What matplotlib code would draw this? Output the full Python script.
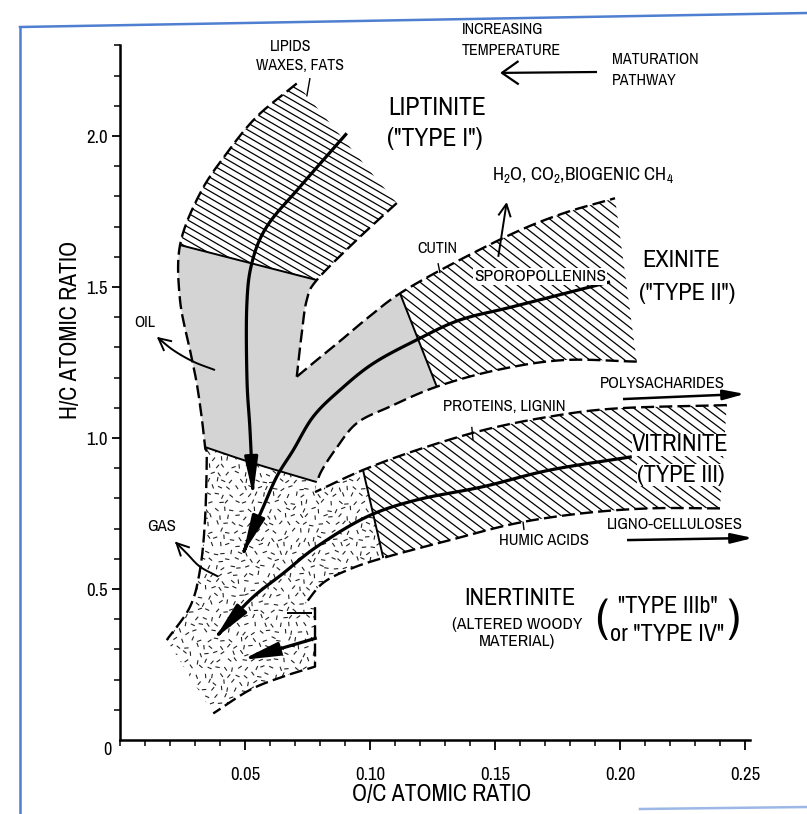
import numpy as np
import matplotlib
matplotlib.use("Agg")
import matplotlib.pyplot as plt
from matplotlib import font_manager
from matplotlib.patches import Polygon, FancyArrowPatch
from matplotlib.collections import LineCollection
from matplotlib.lines import Line2D
from matplotlib.path import Path
from matplotlib.ticker import FixedLocator, MultipleLocator

_avail = {f.name for f in font_manager.fontManager.ttflist}
_cands = ['Liberation Sans Narrow', 'Arial Narrow', 'Archivo Narrow', 'Roboto Condensed',
          'PT Sans Narrow', 'Pragati Narrow', 'Encode Sans Condensed', 'Fira Sans Condensed',
          'IBM Plex Sans Condensed', 'Asap Condensed', 'Barlow Semi Condensed',
          'Open Sans Condensed', 'Ubuntu Condensed', 'DejaVu Sans Condensed']
NARROW = next((c for c in _cands if c in _avail), None)
FS = 1.0 if NARROW else 0.85
if NARROW is None:
    NARROW = 'Liberation Sans'
plt.rcParams['font.family'] = [NARROW, 'Liberation Sans', 'DejaVu Sans']
plt.rcParams['mathtext.fontset'] = 'custom'
plt.rcParams['mathtext.rm'] = NARROW
plt.rcParams['mathtext.it'] = NARROW

# ---------------- data: (O/C, H/C) ----------------
x_ticks = [0.05, 0.10, 0.15, 0.20, 0.25]
x_tick_labels = ['0.05', '0.10', '0.15', '0.20', '0.25']
y_ticks = [0.5, 1.0, 1.5, 2.0]
y_tick_labels = ['0.5', '1.0', '1.5', '2.0']

# Type I (liptinite) band
type1_outer = [(0.0707, 2.174), (0.0547, 2.064), (0.0427, 1.943), (0.032, 1.810), (0.024, 1.639)]
type1_inner = [(0.1107, 1.778), (0.0947, 1.656), (0.0787, 1.523)]
# oil window (grey) edges
oil_left = [(0.024, 1.639), (0.024, 1.457), (0.028, 1.291), (0.0307, 1.181), (0.0328, 1.060), (0.034, 0.970)]
oil_right = [(0.0787, 1.523), (0.0747, 1.457), (0.0727, 1.347), (0.0707, 1.203)]
# Type II (exinite) band
type2_upper = [(0.0707, 1.203), (0.0787, 1.258), (0.088, 1.321), (0.100, 1.404), (0.112, 1.479),
               (0.1307, 1.567), (0.1573, 1.678), (0.1773, 1.744), (0.198, 1.794)]
type2_lower = [(0.2067, 1.253), (0.1773, 1.258), (0.1507, 1.225), (0.1267, 1.170), (0.108, 1.104),
               (0.0947, 1.049), (0.086, 0.960), (0.0808, 0.894), (0.0787, 0.854)]
# Type III (vitrinite) band
type3_upper = [(0.2427, 1.109), (0.1987, 1.098), (0.172, 1.071), (0.1453, 1.026), (0.1187, 0.960),
               (0.0972, 0.894), (0.078, 0.821)]
type3_lower = [(0.24, 0.767), (0.212, 0.767), (0.1853, 0.751), (0.1587, 0.718), (0.132, 0.662),
               (0.1053, 0.603), (0.092, 0.566), (0.0812, 0.520), (0.074, 0.450)]
# gas window / inertinite edges
gas_left = [(0.034, 0.970), (0.0347, 0.938), (0.034, 0.728), (0.032, 0.563), (0.028, 0.441), (0.0187, 0.331)]
gas_right = [(0.078, 0.440), (0.078, 0.243)]
gas_bottom = [(0.078, 0.243), (0.0653, 0.210), (0.052, 0.166), (0.0373, 0.088)]
# solid zone boundaries
sep_type1 = [(0.024, 1.639), (0.0787, 1.523)]
sep_type2 = [(0.112, 1.479), (0.1267, 1.170)]
sep_oil_gas = [(0.034, 0.970), (0.0532, 0.917), (0.0787, 0.854)]
sep_type3 = [(0.0972, 0.894), (0.1053, 0.603)]

# evolution paths (arrows)
path_type1 = [(0.0907, 2.009), (0.072, 1.832), (0.0587, 1.700), (0.0527, 1.578), (0.0507, 1.435),
              (0.0508, 1.192), (0.052, 1.026), (0.0532, 0.811)]
path_type2 = [(0.196, 1.517), (0.1572, 1.435), (0.136, 1.391), (0.1187, 1.325), (0.1013, 1.247),
              (0.088, 1.159), (0.0773, 1.071), (0.0693, 0.960), (0.0627, 0.872), (0.0568, 0.762),
              (0.052, 0.672), (0.0493, 0.619)]
path_type3 = [(0.2047, 0.938), (0.172, 0.894), (0.1453, 0.839), (0.1187, 0.795), (0.0987, 0.739),
              (0.0787, 0.640), (0.0653, 0.552), (0.052, 0.464), (0.038, 0.337)]
path_type4 = [(0.0787, 0.338), (0.0487, 0.265)]
stub_line = [(0.0668, 0.421), (0.0768, 0.421)]

oil_arrow = [(0.038, 1.225), (0.0293, 1.253), (0.0213, 1.291), (0.0147, 1.335)]
gas_arrow = [(0.0393, 0.541), (0.032, 0.574), (0.0267, 0.618), (0.022, 0.657)]
h2o_arrow = [(0.1513, 1.600), (0.1547, 1.782)]
maturation_arrow = [(0.1908, 2.212), (0.152, 2.209)]
polysach_arrow = [(0.2012, 1.129), (0.25, 1.146)]
ligno_arrow = [(0.2028, 0.662), (0.2532, 0.669)]

pointer_lipids = [(0.076, 2.192), (0.0747, 2.131)]
pointer_cutin = [(0.1272, 1.579), (0.128, 1.546)]
pointer_proteins = [(0.1407, 1.037), (0.1412, 0.993)]
pointer_humic = [(0.1612, 0.723), (0.1616, 0.695)]

# ---------------- figure ----------------
FW, FH, DPI = 8.07, 8.14, 100
AX = [0.1487, 0.0909, 0.7807, 0.8533]
fig = plt.figure(figsize=(FW, FH), dpi=DPI)
ax = fig.add_axes(AX)
ax.set_xlim(0, 0.252)
ax.set_ylim(0, 2.3)
AXW = FW * DPI * AX[2]
AXH = FH * DPI * AX[3]
N = 10  # drawing sub-steps per read segment


def smooth(pts, n=N):
    """Catmull-Rom curve through the read points (for drawing only)."""
    P = np.array(pts, float)
    if len(P) < 3:
        return P
    E = np.vstack([2 * P[0] - P[1], P, 2 * P[-1] - P[-2]])
    out = []
    for i in range(1, len(E) - 2):
        p0, p1, p2, p3 = E[i - 1:i + 3]
        for t in np.linspace(0, 1, n, endpoint=False):
            out.append(0.5 * (2 * p1 + (-p0 + p2) * t + (2 * p0 - 5 * p1 + 4 * p2 - p3) * t * t
                              + (-p0 + 3 * p1 - 3 * p2 + p3) * t ** 3))
    out.append(P[-1])
    return np.array(out)


D_out = smooth(type1_outer + oil_left[1:] + gas_left[1:])
D_in = smooth(type1_inner + oil_right[1:])
D_t2u = smooth(type2_upper)
D_t2l = smooth(type2_lower)
D_t3u = smooth(type3_upper)
D_t3l = smooth(type3_lower)
D_gb = smooth(gas_bottom)
D_sog = smooth(sep_oil_gas)


def poly(parts, **kw):
    p = Polygon(np.vstack([np.atleast_2d(np.array(q, float)) for q in parts]), closed=True, **kw)
    ax.add_patch(p)
    return p


t1_poly = poly([D_out[:4 * N + 1], D_in[:2 * N + 1][::-1]], fc='none', ec='none')
oil_poly = poly([sep_type1, D_in[2 * N:], D_t2u[:4 * N + 1], D_t2l[3 * N:], D_sog[::-1],
                 D_out[4 * N:9 * N + 1][::-1]], fc='#d4d4d4', ec='none', zorder=1)
t2_poly = poly([D_t2u[4 * N:], D_t2l[:3 * N + 1]], fc='none', ec='none')
t3_poly = poly([D_t3u[:5 * N + 1], D_t3l[:5 * N + 1][::-1]], fc='none', ec='none')
gas_poly = poly([D_sog, D_t3u[5 * N:][::-1], D_t3l[5 * N:], gas_right, D_gb,
                 D_out[9 * N:][::-1]], fc='white', ec='none', zorder=1)


def hatch(patch, angle_deg, spacing, lw=0.9, color='k'):
    a = np.deg2rad(angle_deg)
    d = np.array([np.cos(a), -np.sin(a)])
    nrm = np.array([np.sin(a), np.cos(a)])
    L = np.hypot(AXW, AXH)
    segs = []
    for c in np.arange(-L, L, spacing):
        p0 = c * nrm - L * d
        p1 = c * nrm + L * d
        segs.append([(p0[0] / AXW, p0[1] / AXH), (p1[0] / AXW, p1[1] / AXH)])
    lc = LineCollection(segs, colors=color, linewidths=lw, transform=ax.transAxes, zorder=2)
    ax.add_collection(lc)
    lc.set_clip_path(patch)


def speckle(patch, step=8.0, half=2.2, lw=0.8):
    # deterministic texture of short strokes (hash of the grid cell, no randomness)
    segs = []
    nx = int(AXW / step) + 2
    ny = int(AXH / (step * 0.9)) + 2
    for j in range(ny):
        for i in range(nx):
            h = ((i * 73856093) ^ (j * 19349663)) & 0xFFFFFF
            ang = np.deg2rad((h % 12) * 15 + 20)
            jx = ((h >> 4) % 5 - 2) * 0.8
            jy = ((h >> 8) % 5 - 2) * 0.8
            cx = i * step + (j % 2) * step / 2 + jx
            cy = j * step * 0.9 + jy
            dx, dy = half * np.cos(ang), half * np.sin(ang)
            segs.append([((cx - dx) / AXW, (cy - dy) / AXH), ((cx + dx) / AXW, (cy + dy) / AXH)])
    lc = LineCollection(segs, colors='#222222', linewidths=lw, transform=ax.transAxes, zorder=2)
    ax.add_collection(lc)
    lc.set_clip_path(patch)


hatch(t1_poly, 30, 6.0)
hatch(t2_poly, 38, 7.2)
hatch(t3_poly, 37, 7.2)
speckle(gas_poly)


def line(points, dashed=False, lw=1.7, z=4):
    P = np.array(points, float)
    ls = (0, (5.5, 2.2)) if dashed else '-'
    ax.plot(P[:, 0], P[:, 1], color='k', lw=lw, ls=ls, zorder=z, solid_capstyle='butt',
            dash_capstyle='butt', clip_on=False)


line(D_out, dashed=True)
line(D_in, dashed=True)
line(D_t2u, dashed=True)
line(D_t2l, dashed=True)
line(D_t3u, dashed=True)
line(D_t3l, dashed=True)
line(np.vstack([gas_right, D_gb[1:]]), dashed=True)
for s in (sep_type1, sep_type2, D_sog, sep_type3):
    line(s, lw=1.4)
for s in (pointer_lipids, pointer_cutin, pointer_proteins, pointer_humic):
    line(s, lw=1.0)
line(stub_line, lw=1.4)


def arrow(points, style, lw, ms, z=5):
    p = FancyArrowPatch(path=Path(smooth(points)), arrowstyle=style, mutation_scale=ms,
                        lw=lw, color='k', zorder=z, capstyle='butt', joinstyle='round',
                        clip_on=False)
    ax.add_patch(p)


big = '-|>,head_length=2.0,head_width=0.36'
arrow(path_type1, big, 2.3, 11)
arrow(path_type2, big, 2.3, 11)
arrow(path_type3, big, 2.3, 11)
arrow(path_type4, big, 2.3, 11)
small = '->,head_length=0.9,head_width=0.45'
arrow(oil_arrow, small, 1.4, 10)
arrow(gas_arrow, small, 1.4, 10)
arrow(h2o_arrow, small, 1.4, 10)
arrow(maturation_arrow, '->,head_length=1.0,head_width=0.7', 1.6, 12)
filled = '-|>,head_length=1.3,head_width=0.3'
arrow(polysach_arrow, filled, 1.8, 10)
arrow(ligno_arrow, filled, 1.8, 10)

# ---------------- texts ----------------
S, M, L = 11.5 * FS, 12 * FS, 17.5 * FS
wb = dict(fc='white', ec='none', pad=0.6)


def T(x, y, s, fs, ha='center', va='center', **kw):
    return ax.text(x, y, s, fontsize=fs, ha=ha, va=va, clip_on=False, zorder=6, **kw)


T(0.0684, 2.296, 'LIPIDS', S)
T(0.0718, 2.234, 'WAXES, FATS', S)
T(0.1368, 2.352, 'INCREASING', S, ha='left')
T(0.1368, 2.283, 'TEMPERATURE', S, ha='left')
T(0.1968, 2.252, 'MATURATION', S, ha='left')
T(0.1968, 2.185, 'PATHWAY', S, ha='left')
T(0.1268, 2.093, 'LIPTINITE', 18.5 * FS)
T(0.1260, 1.993, '("TYPE I")', 18.5 * FS)
T(0.1487, 1.871, r'H$_2$O, CO$_2$,BIOGENIC CH$_4$', 13.5 * FS, ha='left')
T(0.1270, 1.629, 'CUTIN', S)
T(0.1680, 1.534, 'SPOROPOLLENINS', 12.5 * FS, bbox=wb)
T(0.2246, 1.589, 'EXINITE', L)
T(0.2268, 1.480, '("TYPE II")', L)
T(0.0100, 1.381, 'OIL', S)
T(0.2168, 1.179, 'POLYSACHARIDES', M)
T(0.1536, 1.104, 'PROTEINS, LIGNIN', M)
T(0.2242, 0.977, 'VITRINITE', L, bbox=dict(fc='white', ec='none', pad=0.3))
T(0.2244, 0.877, '(TYPE III)', L, bbox=dict(fc='white', ec='none', pad=0.3))
T(0.0167, 0.706, 'GAS', M)
T(0.1696, 0.660, 'HUMIC ACIDS', M)
T(0.2220, 0.712, 'LIGNO-CELLULOSES', M)
T(0.1600, 0.469, 'INERTINITE', L)
T(0.1590, 0.381, '(ALTERED WOODY', 12.5 * FS)
T(0.1590, 0.325, 'MATERIAL)', 12.5 * FS)
T(0.2190, 0.441, '"TYPE IIIb"', L)
T(0.2190, 0.348, 'or "TYPE IV"', L)
T(0.1926, 0.399, '(', 33 * FS)
T(0.2454, 0.399, ')', 33 * FS)
T(-0.0035, -0.005, '0', 13 * FS, ha='right', va='top')

# ---------------- axes styling ----------------
for sp in ('top', 'right'):
    ax.spines[sp].set_visible(False)
for sp in ('left', 'bottom'):
    ax.spines[sp].set_linewidth(1.8)
ax.xaxis.set_major_locator(FixedLocator(x_ticks))
ax.set_xticklabels(x_tick_labels)
ax.xaxis.set_minor_locator(MultipleLocator(0.01))
ax.yaxis.set_major_locator(FixedLocator(y_ticks))
ax.set_yticklabels(y_tick_labels)
ax.yaxis.set_minor_locator(FixedLocator([0.1, 0.2, 0.3, 0.4, 0.6, 0.7, 0.8, 0.9, 1.1, 1.2, 1.3, 1.4,
                                         1.6, 1.7, 1.8, 1.9, 2.1, 2.2, 2.3]))
ax.tick_params(axis='x', which='major', length=7.5, width=1.3, pad=12, labelsize=13.5 * FS)
ax.tick_params(axis='x', which='minor', length=4, width=1.1)
ax.tick_params(axis='y', which='major', length=6, width=1.3, pad=3, labelsize=13.5 * FS)
ax.tick_params(axis='y', which='minor', length=4.5, width=1.1)
ax.set_xlabel('O/C ATOMIC RATIO', fontsize=17 * FS)
ax.xaxis.set_label_coords(0.51, -0.064)
ax.set_ylabel('H/C ATOMIC RATIO', fontsize=17 * FS)
ax.yaxis.set_label_coords(-0.062, 0.59)

# scanned page frame
blue = '#4f7fd0'
fig.add_artist(Line2D([20 / 807, 1.0], [1 - 27 / 814, 1 - 13 / 814], transform=fig.transFigure,
                      color=blue, lw=1.8))
fig.add_artist(Line2D([20 / 807, 20 / 807], [1 - 27 / 814, 0.0], transform=fig.transFigure,
                      color=blue, lw=1.8))
fig.add_artist(Line2D([640 / 807, 1.0], [1 - 809 / 814, 1 - 807 / 814], transform=fig.transFigure,
                      color='#9db8e6', lw=1.8))

fig.savefig('out.png', dpi=DPI)
